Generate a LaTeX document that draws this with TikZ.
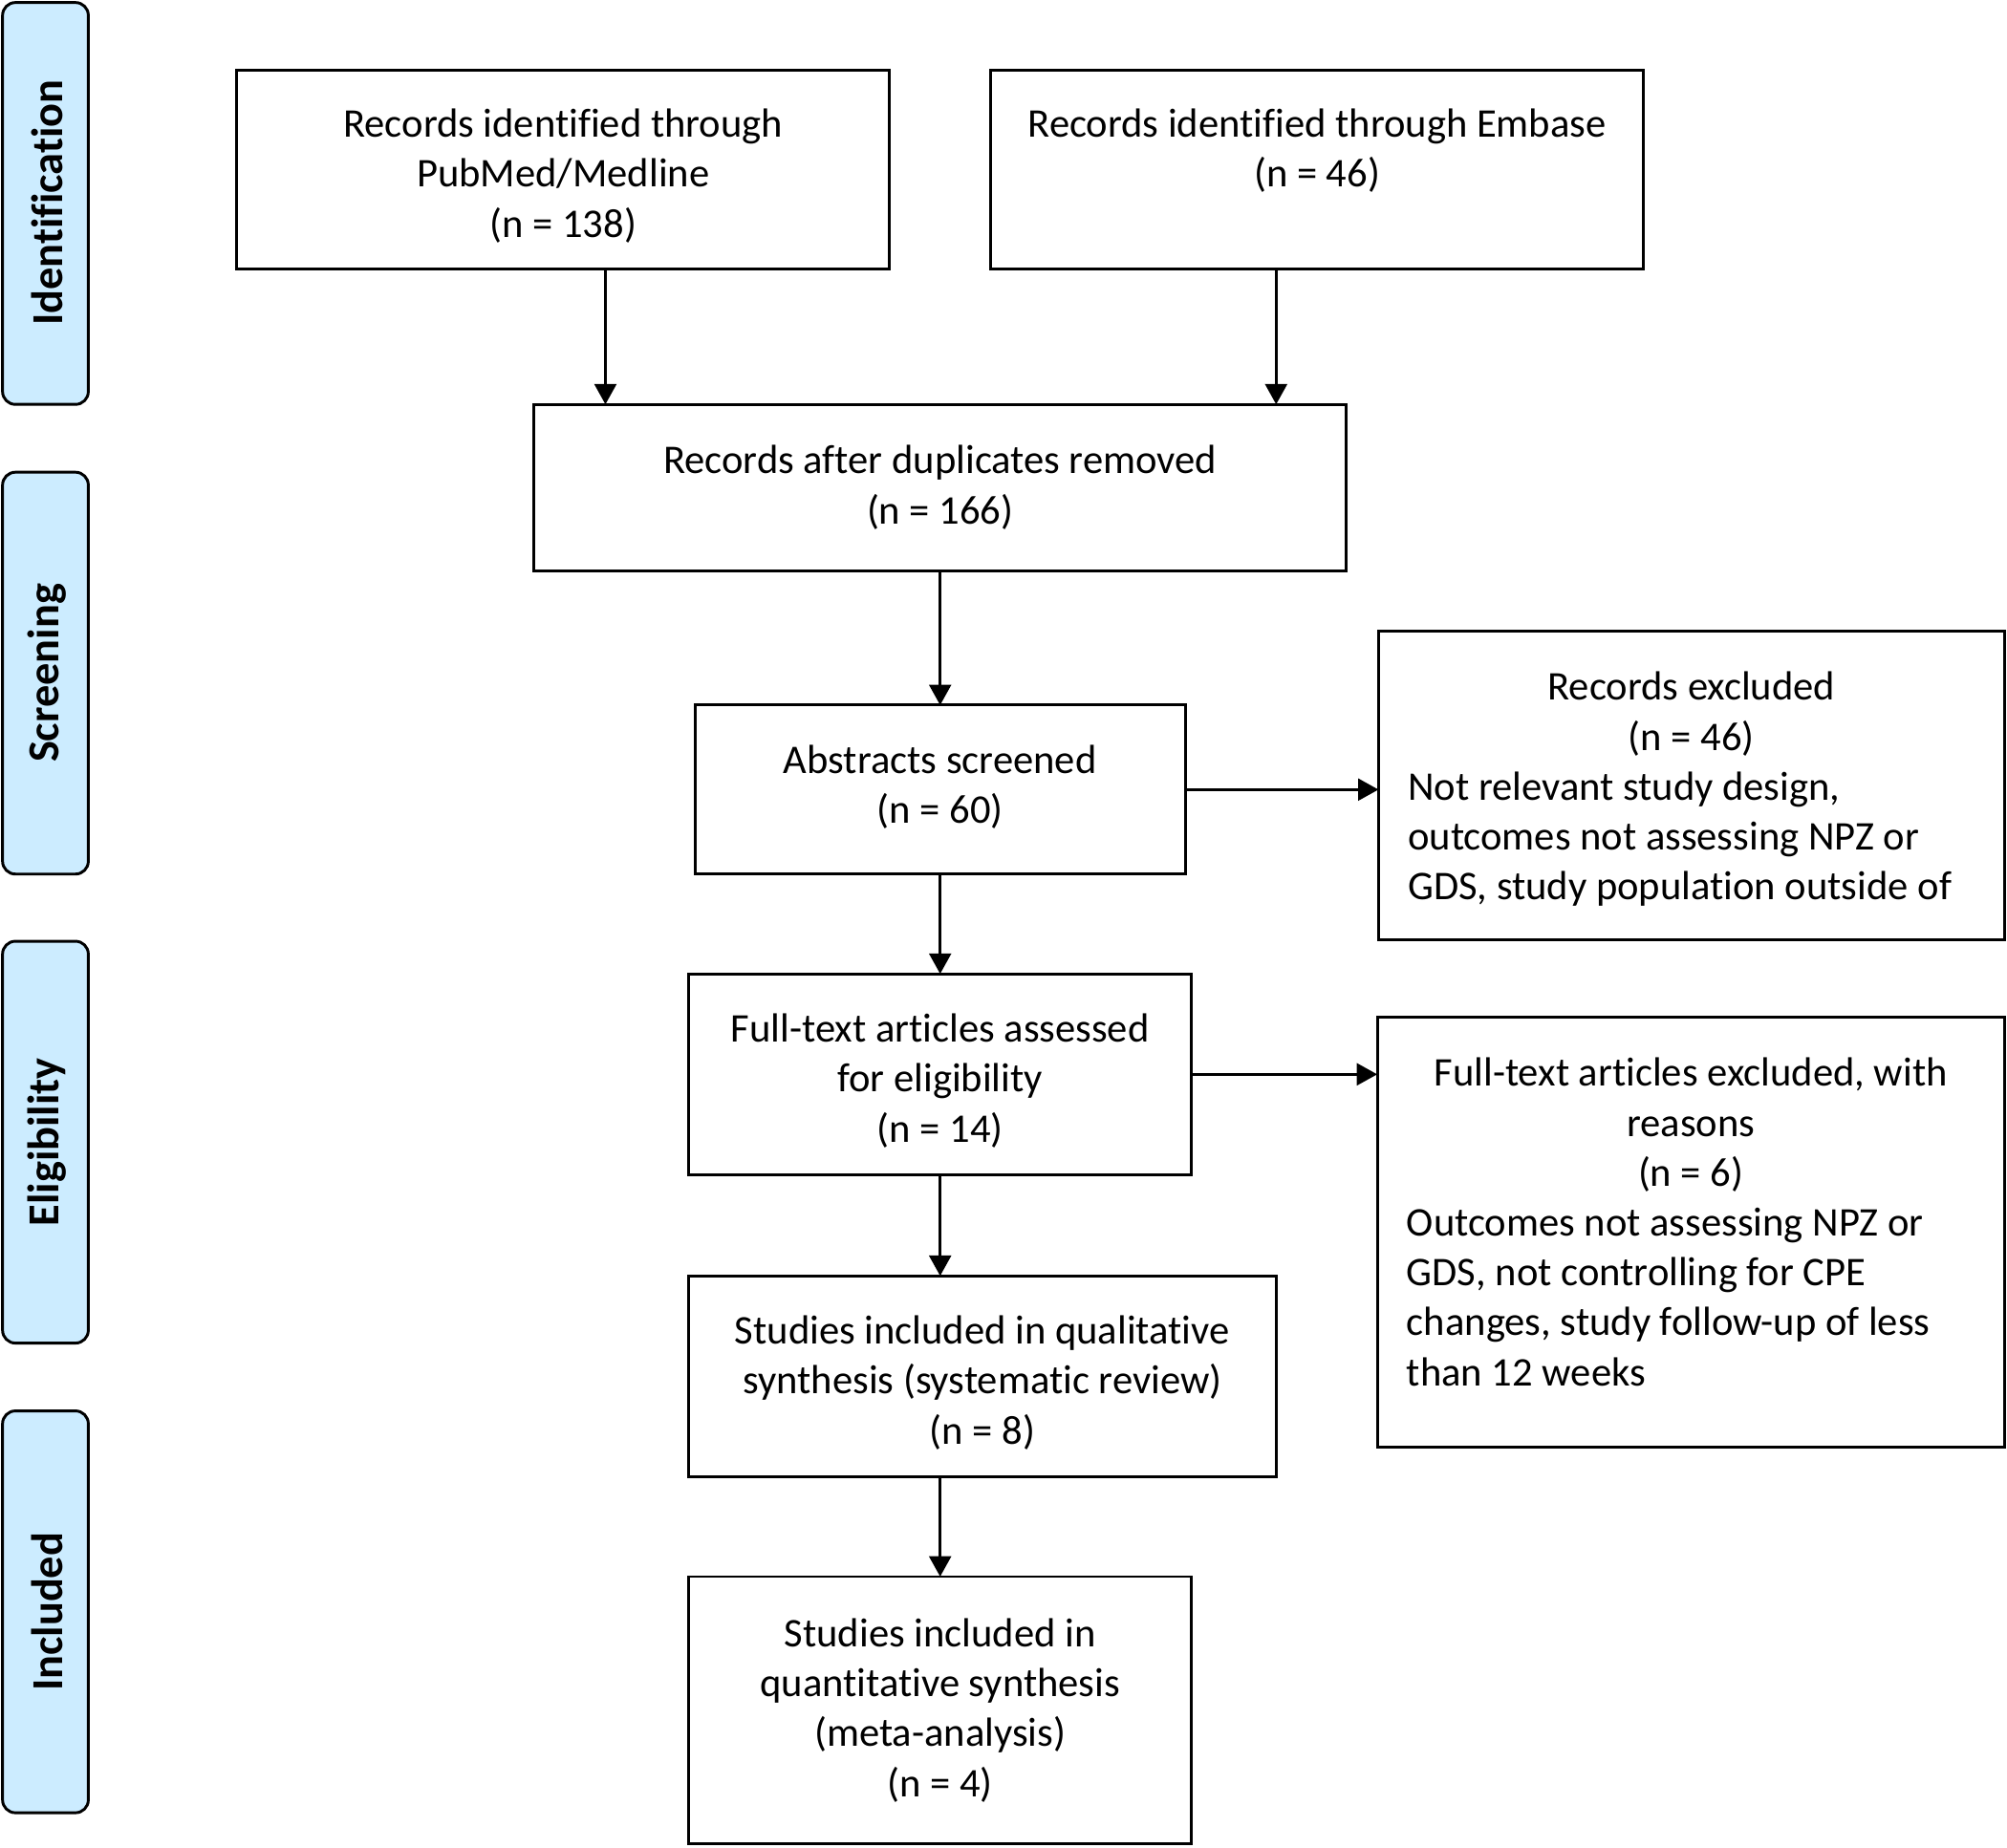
\documentclass[tikz,border=0pt]{standalone}
\usepackage{fontspec}
\setmainfont[Ligatures=NoCommon]{Carlito}
\usetikzlibrary{arrows.meta}
\definecolor{tabblue}{RGB}{204,236,255}
\begin{document}
\begin{tikzpicture}[x=0.5pt,y=-0.5pt,
  box/.style={draw=black,line width=1.1pt,rectangle,inner sep=0pt,outer sep=0pt},
  lab/.style={align=center,inner sep=0pt,font=\fontsize{15.9pt}{19.5pt}\selectfont},
  tab/.style={draw=black,line width=1.1pt,fill=tabblue,rounded corners=5pt,inner sep=0pt,outer sep=0pt,
    minimum width=33.5pt,minimum height=157pt},
  tablabel/.style={rotate=90,font=\fontsize{17.3pt}{20pt}\selectfont\bfseries},
  arr/.style={line width=1.25pt,-{Triangle[length=8pt,width=8.5pt]}}
]
\useasboundingbox (0,0) rectangle (1568,1444);

% side tabs
\node[tab] (tid) at (35.5,159) {};
\node[tab] (tsc) at (35.5,526) {};
\node[tab] (tel) at (35.5,892.5) {};
\node[tab] (tin) at (35.5,1259.5) {};
\node[tablabel] (lid) at (37,158.5) {Identification};
\node[tablabel] (lsc) at (37,526) {Screening};
\node[tablabel] (lel) at (37,892.5) {Eligibility};
\node[tablabel] (lin) at (37,1259.5) {Included};

% boxes
\node[box,minimum width=255pt,minimum height=77.5pt,
  label={[lab,name=pubt,yshift=-2.5pt]center:{Records identified through\\PubMed/Medline\\(n = 138)}}]
  (pub) at (440,132.5) {};
\node[box,minimum width=255pt,minimum height=77.5pt,
  label={[lab,name=embt,yshift=7.3pt]center:{Records identified through Embase\\(n = 46)}}]
  (emb) at (1029,132.5) {};
\node[box,minimum width=317.5pt,minimum height=65pt,
  label={[lab,name=dupt]center:{Records after duplicates removed\\(n = 166)}}]
  (dup) at (734.5,381) {};
\node[box,minimum width=191.5pt,minimum height=66pt,
  label={[lab,name=abst,yshift=1pt]center:{Abstracts screened\\(n = 60)}}]
  (abs) at (734.5,617) {};
\node[box,minimum width=244.5pt,minimum height=120.5pt,
  label={[lab,name=rext,yshift=-2pt]center:{\begin{tabular}{@{}p{221.5pt}@{}}
   \multicolumn{1}{@{}c@{}}{Records excluded}\\
   \multicolumn{1}{@{}c@{}}{(n = 46)}\\
   Not relevant study design,\\
   outcomes not assessing NPZ or\\
   GDS, study population outside of
   \end{tabular}}}]
  (rex) at (1321.5,613.5) {};
\node[box,minimum width=196.5pt,minimum height=78.5pt,
  label={[lab,name=ftat,yshift=-2.5pt]center:{Full-text articles assessed\\for eligibility\\(n = 14)}}]
  (fta) at (734.5,839.5) {};
\node[box,minimum width=245pt,minimum height=168pt,
  label={[lab,name=fext,yshift=2.5pt]center:{\begin{tabular}{@{}p{222pt}@{}}
   \multicolumn{1}{@{}c@{}}{Full-text articles excluded, with}\\
   \multicolumn{1}{@{}c@{}}{reasons}\\
   \multicolumn{1}{@{}c@{}}{(n = 6)}\\
   Outcomes not assessing NPZ or\\
   GDS, not controlling for CPE\\
   changes, study follow-up of less\\
   than 12 weeks
   \end{tabular}}}]
  (fex) at (1321,963) {};
\node[box,minimum width=229.5pt,minimum height=78.5pt,
  label={[lab,name=qualt,yshift=-2.5pt]center:{Studies included in qualitative\\synthesis (systematic review)\\(n = 8)}}]
  (qual) at (767.5,1075.5) {};
\node[box,minimum width=196.5pt,minimum height=104.5pt,
  label={[lab,name=quantt]center:{Studies included in\\quantitative synthesis\\(meta-analysis)\\(n = 4)}}]
  (quant) at (734.5,1336.5) {};

% connectors
\coordinate (xa) at (473,0);
\coordinate (xb) at (997,0);
\draw[arr] (xa |- pub.south) -- (xa |- dup.north);
\draw[arr] (xb |- emb.south) -- (xb |- dup.north);
\draw[arr] (dup.south) -- (abs.north);
\draw[arr] (abs.east) -- (abs.east -| rex.west);
\draw[arr] (abs.south) -- (fta.north);
\draw[arr] (fta.east) -- (fta.east -| fex.west);
\draw[arr] (fta.south) -- (fta.south |- qual.north);
\draw[arr] (quant.north |- qual.south) -- (quant.north);
\end{tikzpicture}
\end{document}
